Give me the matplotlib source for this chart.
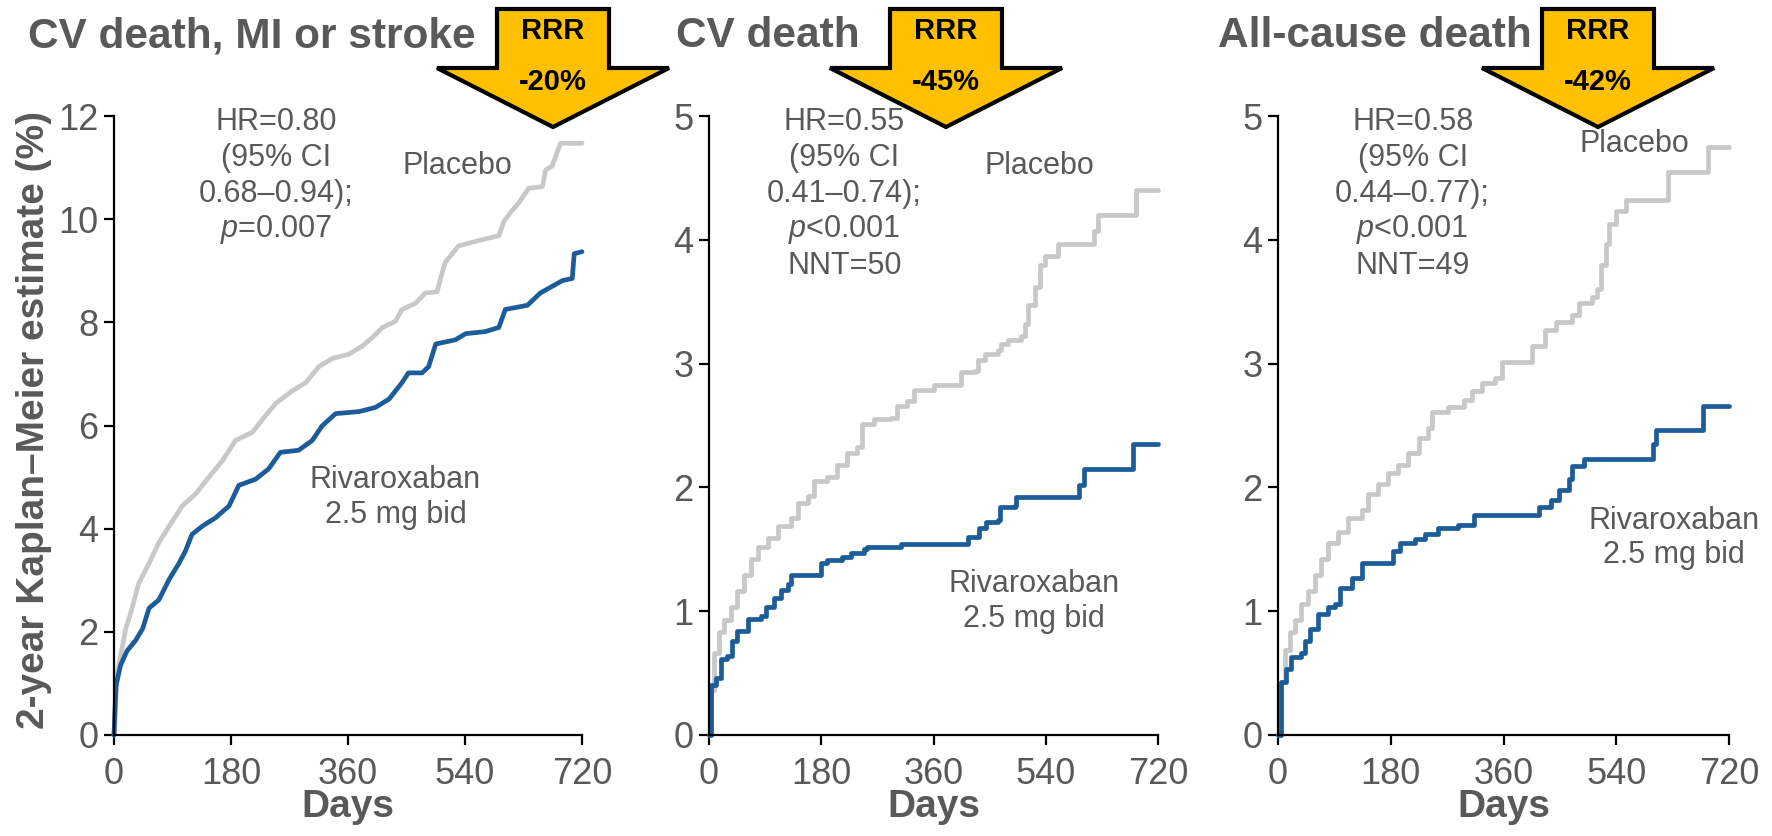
import matplotlib
matplotlib.use('Agg')
import matplotlib.pyplot as plt
from matplotlib.patches import Polygon

plt.rcParams['font.family'] = ['Liberation Sans', 'DejaVu Sans']
plt.rcParams['mathtext.fontset'] = 'custom'
plt.rcParams['mathtext.rm'] = 'Liberation Sans'
plt.rcParams['mathtext.it'] = 'Liberation Sans:italic'

GRAY_TEXT = '#595959'
PLACEBO_COLOR = '#C8C8C8'
RIVA_COLOR = '#1C5D99'
ARROW_COLOR = '#FFC000'

# Panel titles and stats
titles = ['CV death, MI or stroke', 'CV death', 'All-cause death']
rrr_labels = ['-20%', '-45%', '-42%']
stat_lines = [
    ['HR=0.80', '(95% CI', '0.68\u20130.94);', r'$\mathit{p}$=0.007'],
    ['HR=0.55', '(95% CI', '0.41\u20130.74);', r'$\mathit{p}$<0.001', 'NNT=50'],
    ['HR=0.58', '(95% CI', '0.44\u20130.77);', r'$\mathit{p}$<0.001', 'NNT=49'],
]
y_maxes = [12, 5, 5]
y_ticks = [[0, 2, 4, 6, 8, 10, 12], [0, 1, 2, 3, 4, 5], [0, 1, 2, 3, 4, 5]]
x_ticks = [0, 180, 360, 540, 720]

# Kaplan-Meier curves, days / percent
mace_placebo_days = [0, 5, 18, 26, 38, 54, 69, 85, 105, 126, 146, 167, 187, 213, 233, 249, 274, 295,
                     315, 336, 361, 382, 397, 413, 433, 443, 464, 479, 497, 505, 510, 530, 541, 566,
                     592, 600, 612, 623, 638, 659, 664, 674, 687, 720]
mace_placebo_pct = [0, 1.2, 2.06, 2.38, 2.94, 3.33, 3.73, 4.05, 4.44, 4.68, 5.0, 5.32, 5.71, 5.87,
                    6.19, 6.43, 6.67, 6.83, 7.14, 7.30, 7.38, 7.54, 7.70, 7.90, 8.02, 8.25, 8.37,
                    8.57, 8.59, 8.97, 9.17, 9.48, 9.52, 9.60, 9.68, 9.96, 10.16, 10.32, 10.6, 10.63,
                    10.95, 11.03, 11.47, 11.47]
mace_riva_days = [0, 3, 10, 20, 33, 44, 54, 69, 85, 100, 110, 120, 136, 156, 177, 192, 218, 238,
                  256, 284, 305, 320, 341, 377, 402, 423, 443, 453, 474, 484, 495, 525, 541, 571,
                  592, 602, 636, 656, 690, 705, 708, 720]
mace_riva_pct = [0, 0.95, 1.35, 1.63, 1.83, 2.06, 2.46, 2.62, 3.02, 3.33, 3.57, 3.89, 4.05, 4.21,
                 4.44, 4.84, 4.96, 5.16, 5.48, 5.52, 5.71, 5.99, 6.23, 6.27, 6.35, 6.51, 6.83,
                 7.02, 7.02, 7.14, 7.58, 7.66, 7.78, 7.82, 7.90, 8.25, 8.33, 8.57, 8.81, 8.85,
                 9.33, 9.37]

cvd_placebo_days = [0, 3, 8, 16, 24, 35, 45, 56, 67, 78, 94, 110, 131, 142, 158, 169, 190, 206,
                    222, 238, 246, 265, 292, 302, 318, 329, 361, 404, 426, 431, 442, 463, 469, 479,
                    501, 506, 511, 522, 530, 538, 559, 618, 624, 685, 720]
cvd_placebo_pct = [0, 0.36, 0.66, 0.83, 0.93, 1.03, 1.16, 1.29, 1.42, 1.52, 1.59, 1.69, 1.75, 1.87,
                   1.93, 2.05, 2.08, 2.18, 2.28, 2.33, 2.51, 2.55, 2.56, 2.66, 2.70, 2.79, 2.83,
                   2.93, 2.94, 3.03, 3.08, 3.11, 3.16, 3.19, 3.22, 3.32, 3.47, 3.62, 3.80, 3.87,
                   3.97, 4.07, 4.20, 4.40, 4.40]
cvd_riva_days = [0, 3, 11, 19, 29, 37, 45, 62, 83, 91, 104, 115, 126, 131, 179, 190, 214, 228,
                 249, 254, 308, 415, 433, 444, 463, 466, 490, 493, 594, 602, 680, 720]
cvd_riva_pct = [0, 0.40, 0.46, 0.61, 0.64, 0.76, 0.84, 0.94, 0.96, 1.03, 1.11, 1.17, 1.22, 1.29,
                1.39, 1.41, 1.44, 1.47, 1.50, 1.52, 1.54, 1.60, 1.67, 1.72, 1.74, 1.84, 1.85,
                1.92, 2.02, 2.15, 2.35, 2.35]

acd_placebo_days = [0, 5, 11, 19, 27, 37, 48, 59, 69, 80, 96, 112, 134, 144, 160, 176, 192, 208,
                    225, 240, 246, 272, 297, 310, 326, 347, 358, 406, 427, 444, 470, 481, 502, 510,
                    516, 524, 529, 540, 556, 622, 687, 720]
acd_placebo_pct = [0, 0.43, 0.69, 0.83, 0.93, 1.06, 1.16, 1.29, 1.42, 1.55, 1.64, 1.75, 1.82, 1.95,
                   2.03, 2.12, 2.18, 2.28, 2.40, 2.48, 2.61, 2.65, 2.71, 2.78, 2.84, 2.88, 3.01,
                   3.14, 3.27, 3.34, 3.39, 3.49, 3.54, 3.60, 3.80, 3.97, 4.13, 4.23, 4.32, 4.55,
                   4.75, 4.75]
acd_riva_days = [0, 5, 13, 21, 37, 43, 51, 64, 80, 91, 99, 118, 134, 184, 195, 219, 235, 256, 288,
                 313, 417, 436, 449, 465, 470, 489, 599, 604, 679, 720]
acd_riva_pct = [0, 0.43, 0.53, 0.63, 0.66, 0.76, 0.86, 0.98, 1.03, 1.06, 1.19, 1.27, 1.39, 1.49,
                1.55, 1.58, 1.62, 1.67, 1.70, 1.78, 1.84, 1.90, 1.98, 2.07, 2.17, 2.23, 2.35,
                2.46, 2.66, 2.66]

placebo_days = [mace_placebo_days, cvd_placebo_days, acd_placebo_days]
placebo_pct = [mace_placebo_pct, cvd_placebo_pct, acd_placebo_pct]
riva_days = [mace_riva_days, cvd_riva_days, acd_riva_days]
riva_pct = [mace_riva_pct, cvd_riva_pct, acd_riva_pct]

# first panel has many tiny steps -> looks smooth; the others show clear plateaus
draw_styles = ['default', 'steps-post', 'steps-post']

# label anchor positions (data coords)
stat_pos = [(249, 11.89, 0.70), (217, 4.95, 0.29), (215, 4.95, 0.29)]
placebo_pos = [(529, 11.04), (530, 4.60), (569, 4.77)]
riva_pos = [(433, 4.6), (521, 1.08), (632, 1.59)]

W, H = 1772, 836
fig = plt.figure(figsize=(W / 100, H / 100), dpi=100)

# axes boxes in pixels: left, right
ax_px = [(114, 582), (709, 1158), (1278, 1729)]
bottom_px, top_px = 735, 116
title_x = [28, 676, 1218]
arrow_cx = [553, 946, 1598]

for i in range(3):
    l, r = ax_px[i]
    ax = fig.add_axes([l / W, 1 - bottom_px / H, (r - l) / W, (bottom_px - top_px) / H])
    ax.plot(placebo_days[i], placebo_pct[i], drawstyle=draw_styles[i], color=PLACEBO_COLOR,
            lw=3.4, clip_on=False, solid_capstyle='round', solid_joinstyle='round')
    ax.plot(riva_days[i], riva_pct[i], drawstyle=draw_styles[i], color=RIVA_COLOR,
            lw=3.4, clip_on=False, solid_capstyle='round', solid_joinstyle='round')
    ax.set_xlim(0, 720)
    ax.set_ylim(0, y_maxes[i])
    ax.set_xticks(x_ticks)
    ax.set_yticks(y_ticks[i])
    for s in ['top', 'right']:
        ax.spines[s].set_visible(False)
    for s in ['left', 'bottom']:
        ax.spines[s].set_linewidth(1.6)
    ax.tick_params(direction='out', length=7, width=1.6, colors='black',
                   labelcolor=GRAY_TEXT, labelsize=26)
    ax.tick_params(axis='x', pad=9)
    ax.tick_params(axis='y', pad=4)
    ax.set_xlabel('Days', fontsize=28, fontweight='bold', color=GRAY_TEXT, labelpad=-2)

    sx, sy, step = stat_pos[i]
    for k, line in enumerate(stat_lines[i]):
        ax.text(sx, sy - k * step, line, ha='center', va='center', fontsize=22,
                color=GRAY_TEXT)
    ax.text(*placebo_pos[i], 'Placebo', ha='center', va='center', fontsize=22,
            color=GRAY_TEXT)
    ax.text(*riva_pos[i], 'Rivaroxaban\n2.5 mg bid', ha='center', va='center',
            fontsize=22, color=GRAY_TEXT, linespacing=1.2)

    fig.text(title_x[i] / W, 1 - 36 / H, titles[i], ha='left', va='center', fontsize=30.5,
             fontweight='bold', color=GRAY_TEXT)

    # RRR arrow
    cx = arrow_cx[i]
    sw, hw = 56, 116
    y_top, y_sh, y_tip = 9, 68, 127
    pts = [(cx - sw, y_top), (cx + sw, y_top), (cx + sw, y_sh), (cx + hw, y_sh),
           (cx, y_tip), (cx - hw, y_sh), (cx - sw, y_sh)]
    pts = [(x / W, 1 - y / H) for x, y in pts]
    arrow = Polygon(pts, closed=True, facecolor=ARROW_COLOR, edgecolor='black', lw=3,
                    transform=fig.transFigure, zorder=10, joinstyle='miter')
    fig.add_artist(arrow)
    fig.text(cx / W, 1 - 31 / H, 'RRR', ha='center', va='center', fontsize=21,
             fontweight='bold', color='black', zorder=11)
    fig.text(cx / W, 1 - 82 / H, rrr_labels[i], ha='center', va='center', fontsize=21,
             fontweight='bold', color='black', zorder=11)

fig.text(34 / W, 1 - 420 / H, '2-year Kaplan\u2013Meier estimate (%)', rotation=90,
         ha='center', va='center', fontsize=28, fontweight='bold', color=GRAY_TEXT)

fig.savefig('out.png', dpi=100)
